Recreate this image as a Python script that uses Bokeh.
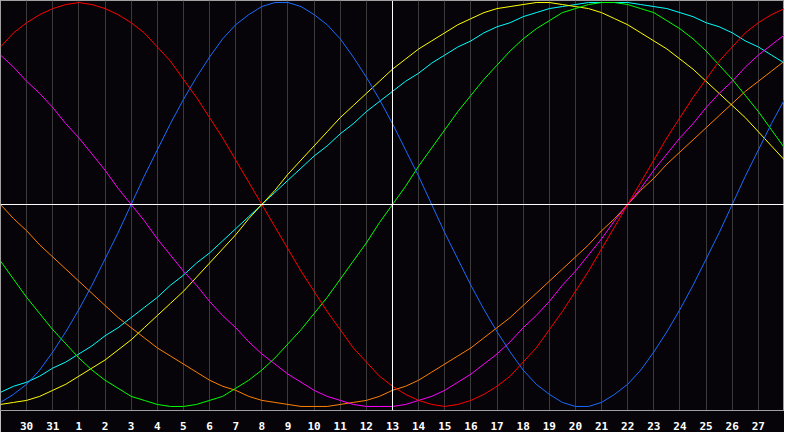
from bokeh.embed import file_html
from bokeh.models import FixedTicker, Span
from bokeh.plotting import figure
from bokeh.resources import INLINE

# half-day offsets across the window (0 = left edge, 30 = right edge)
DAYS = [i / 2 for i in range(61)]
# tick labels (calendar day) at offsets 1..29
TICK_POS = list(range(1, 30))
TICK_LABELS = ["30", "31", "1", "2", "3", "4", "5", "6", "7", "8", "9", "10",
               "11", "12", "13", "14", "15", "16", "17", "18", "19", "20",
               "21", "22", "23", "24", "25", "26", "27"]

# cycle values every half day, range -1..1
physical = [-0.98, -0.94, -0.89, -0.82, -0.73, -0.63, -0.52, -0.40, -0.27, -0.14,
            0.00, 0.14, 0.27, 0.40, 0.52, 0.63, 0.73, 0.82, 0.89, 0.94,
            0.98, 1.00, 1.00, 0.98, 0.94, 0.89, 0.82, 0.73, 0.63, 0.52,
            0.40, 0.27, 0.14, 0.00, -0.14, -0.27, -0.40, -0.52, -0.63, -0.73,
            -0.82, -0.89, -0.94, -0.98, -1.00, -1.00, -0.98, -0.94, -0.89, -0.82,
            -0.73, -0.63, -0.52, -0.40, -0.27, -0.14, 0.00, 0.14, 0.27, 0.40, 0.52]
emotional = [0.78, 0.85, 0.90, 0.94, 0.97, 0.99, 1.00, 0.99, 0.97, 0.94,
             0.90, 0.85, 0.78, 0.71, 0.62, 0.53, 0.43, 0.33, 0.22, 0.11,
             0.00, -0.11, -0.22, -0.33, -0.43, -0.53, -0.62, -0.71, -0.78, -0.85,
             -0.90, -0.94, -0.97, -0.99, -1.00, -0.99, -0.97, -0.94, -0.90, -0.85,
             -0.78, -0.71, -0.62, -0.53, -0.43, -0.33, -0.22, -0.11, 0.00, 0.11,
             0.22, 0.33, 0.43, 0.53, 0.62, 0.71, 0.78, 0.85, 0.90, 0.94, 0.97]
intellectual = [-0.28, -0.37, -0.46, -0.54, -0.62, -0.69, -0.76, -0.82, -0.87, -0.91,
                -0.95, -0.97, -0.99, -1.00, -1.00, -0.99, -0.97, -0.95, -0.91, -0.87,
                -0.82, -0.76, -0.69, -0.62, -0.54, -0.46, -0.37, -0.28, -0.19, -0.09,
                0.00, 0.09, 0.19, 0.28, 0.37, 0.46, 0.54, 0.62, 0.69, 0.76,
                0.82, 0.87, 0.91, 0.95, 0.97, 0.99, 1.00, 1.00, 0.99, 0.97,
                0.95, 0.91, 0.87, 0.82, 0.76, 0.69, 0.62, 0.54, 0.46, 0.37, 0.28]
intuitive = [0.74, 0.68, 0.61, 0.55, 0.48, 0.40, 0.33, 0.25, 0.17, 0.08,
             0.00, -0.08, -0.17, -0.25, -0.33, -0.40, -0.48, -0.55, -0.61, -0.68,
             -0.74, -0.79, -0.84, -0.88, -0.92, -0.95, -0.97, -0.99, -1.00, -1.00,
             -1.00, -0.99, -0.97, -0.95, -0.92, -0.88, -0.84, -0.79, -0.74, -0.68,
             -0.61, -0.55, -0.48, -0.40, -0.33, -0.25, -0.17, -0.08, 0.00, 0.08,
             0.17, 0.25, 0.33, 0.40, 0.48, 0.55, 0.61, 0.68, 0.74, 0.79, 0.84]
aesthetic = [-0.99, -0.98, -0.97, -0.95, -0.92, -0.89, -0.85, -0.81, -0.77, -0.72,
             -0.67, -0.61, -0.55, -0.49, -0.43, -0.36, -0.29, -0.22, -0.15, -0.07,
             0.00, 0.07, 0.15, 0.22, 0.29, 0.36, 0.43, 0.49, 0.55, 0.61,
             0.67, 0.72, 0.77, 0.81, 0.85, 0.89, 0.92, 0.95, 0.97, 0.98,
             0.99, 1.00, 1.00, 0.99, 0.98, 0.97, 0.95, 0.92, 0.89, 0.85,
             0.81, 0.77, 0.72, 0.67, 0.61, 0.55, 0.49, 0.43, 0.36, 0.29, 0.22]
awareness = [0.00, -0.07, -0.13, -0.20, -0.26, -0.32, -0.38, -0.44, -0.50, -0.56,
             -0.61, -0.66, -0.71, -0.75, -0.79, -0.83, -0.87, -0.90, -0.92, -0.95,
             -0.97, -0.98, -0.99, -1.00, -1.00, -1.00, -0.99, -0.98, -0.97, -0.95,
             -0.92, -0.90, -0.87, -0.83, -0.79, -0.75, -0.71, -0.66, -0.61, -0.56,
             -0.50, -0.44, -0.38, -0.32, -0.26, -0.20, -0.13, -0.07, 0.00, 0.07,
             0.13, 0.20, 0.26, 0.32, 0.38, 0.44, 0.50, 0.56, 0.61, 0.66, 0.71]
spiritual = [-0.93, -0.90, -0.88, -0.85, -0.81, -0.78, -0.74, -0.70, -0.65, -0.61,
             -0.56, -0.51, -0.46, -0.40, -0.35, -0.29, -0.24, -0.18, -0.12, -0.06,
             0.00, 0.06, 0.12, 0.18, 0.24, 0.29, 0.35, 0.40, 0.46, 0.51,
             0.56, 0.61, 0.65, 0.70, 0.74, 0.78, 0.81, 0.85, 0.88, 0.90,
             0.93, 0.95, 0.97, 0.98, 0.99, 1.00, 1.00, 1.00, 1.00, 0.99,
             0.98, 0.97, 0.95, 0.93, 0.90, 0.88, 0.85, 0.81, 0.78, 0.74, 0.70]

TODAY = 15

BG = "#060408"

p = figure(width=784, height=432, x_range=(0, 30), y_range=(-1.02, 1.01),
           output_backend="svg", toolbar_location=None,
           background_fill_color=BG, border_fill_color=BG,
           min_border_left=0, min_border_right=0, min_border_top=0,
           min_border_bottom=0)
p.outline_line_color = "#a0a0a0"
p.yaxis.visible = False
p.ygrid.visible = False

ticker = FixedTicker(ticks=TICK_POS)
p.xaxis.ticker = ticker
p.xaxis.major_label_overrides = dict(zip(TICK_POS, TICK_LABELS))
p.xaxis.axis_line_color = "#a0a0a0"
p.xaxis.major_tick_line_color = None
p.xaxis.minor_tick_line_color = None
p.xaxis.major_label_text_color = "white"
p.xaxis.major_label_text_font = "DejaVu Sans Mono"
p.xaxis.major_label_text_font_style = "bold"
p.xaxis.major_label_text_font_size = "11px"
p.xaxis.major_label_standoff = 5
p.xgrid.ticker = ticker
p.xgrid.grid_line_color = "#3a3a3a"

p.add_layout(Span(location=TODAY, dimension="height", line_color="white", line_width=1))
p.add_layout(Span(location=0, dimension="width", line_color="white", line_width=1))

for vals, col in [(awareness, "#ff8000"), (spiritual, "#00ffff"),
                  (aesthetic, "#ffff00"), (intuitive, "#ff00ff"),
                  (intellectual, "#00ff00"), (physical, "#1a6cff"),
                  (emotional, "#ff0000")]:
    p.line(DAYS, vals, line_color=col, line_width=1)

open("out.html", "w").write(file_html(p, INLINE))
